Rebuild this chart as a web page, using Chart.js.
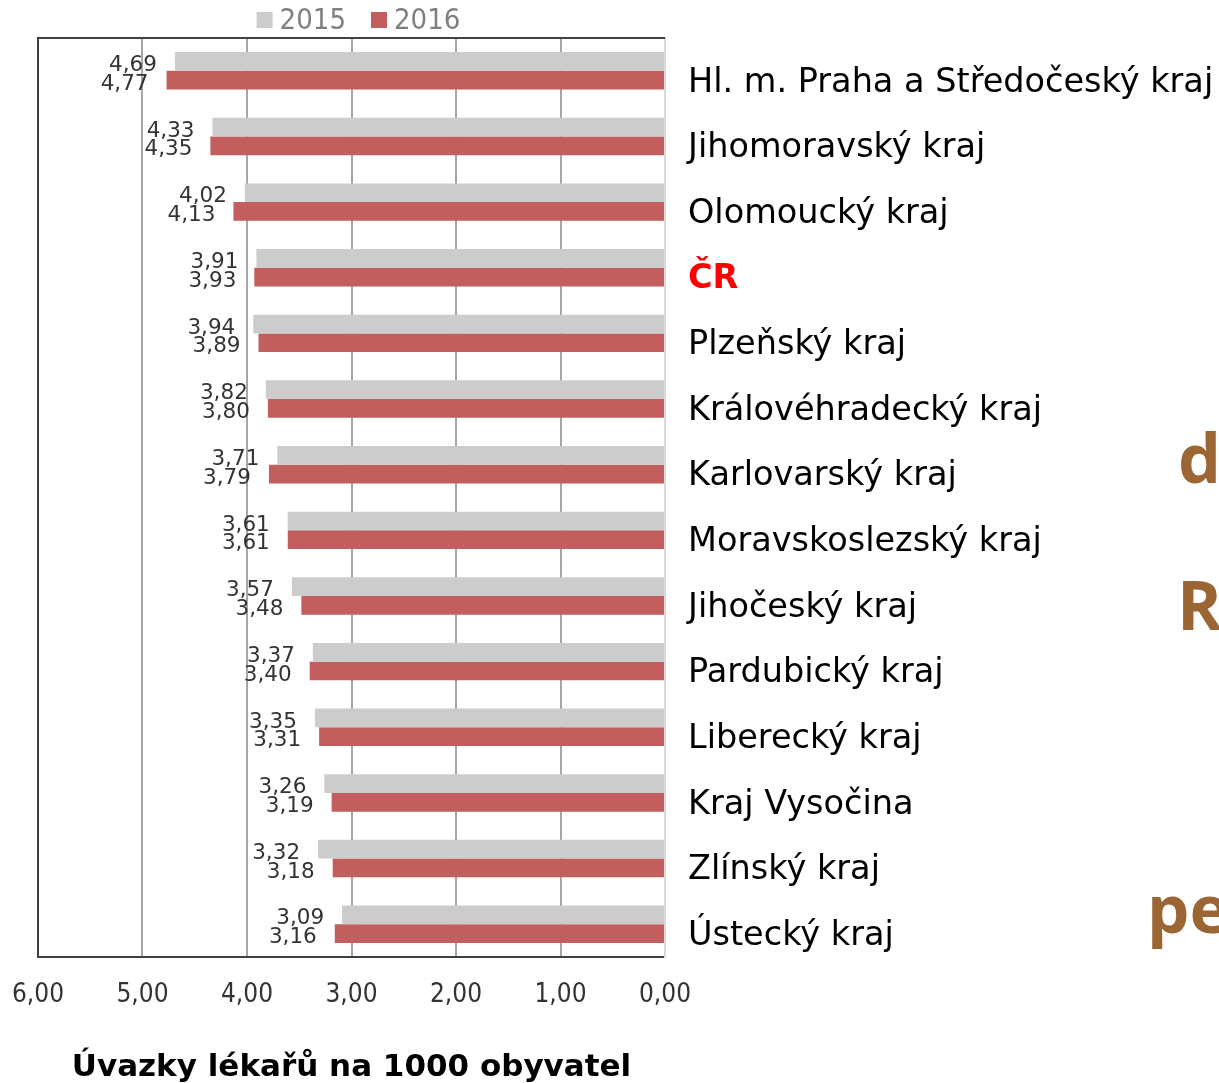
<!DOCTYPE html>
<html>
<head>
<meta charset="utf-8">
<script src="https://cdn.jsdelivr.net/npm/chart.js@4/dist/chart.umd.min.js"></script>
<style>
html,body{margin:0;padding:0;background:#fff;}
#wrap{width:1219px;height:1083px;position:relative;}
</style>
</head>
<body>
<div id="wrap"><canvas id="c" width="1219" height="1083"></canvas></div>
<script>
const categories = ['Hl. m. Praha a Středočeský kraj','Jihomoravský kraj','Olomoucký kraj','ČR','Plzeňský kraj','Královéhradecký kraj','Karlovarský kraj','Moravskoslezský kraj','Jihočeský kraj','Pardubický kraj','Liberecký kraj','Kraj Vysočina','Zlínský kraj','Ústecký kraj'];
const values2015 = [4.69,4.33,4.02,3.91,3.94,3.82,3.71,3.61,3.57,3.37,3.35,3.26,3.32,3.09];
const values2016 = [4.77,4.35,4.13,3.93,3.89,3.80,3.79,3.61,3.48,3.40,3.31,3.19,3.18,3.16];
const seriesNames = ['2015','2016'];
const axisTicks = ['0,00','1,00','2,00','3,00','4,00','5,00','6,00'];
const chartTitle = 'Úvazky lékařů na 1000 obyvatel';
const highlightCategory = 'ČR';
const sideWords = ['d','R','pe'];

const COND = "'DejaVu Sans Condensed','DejaVu Sans',sans-serif";
const REG = "'DejaVu Sans',sans-serif";
const fmt = v => v.toFixed(2).replace('.', ',');

const decor = {
  id:'decor',
  beforeDatasetsDraw(chart){
    const {ctx, chartArea:a} = chart;
    ctx.save();
    ctx.strokeStyle = '#404040';
    ctx.lineWidth = 2;
    ctx.beginPath();
    ctx.moveTo(a.left-1, a.top);
    ctx.lineTo(a.right, a.top);
    ctx.stroke();
    ctx.restore();
  },
  afterDraw(chart){
    const {ctx, chartArea:a} = chart;
    ctx.save();
    // value labels
    ctx.font = "21.5px " + REG;
    ctx.fillStyle = '#333333';
    ctx.textAlign = 'right';
    ctx.textBaseline = 'middle';
    chart.data.datasets.forEach((ds, di) => {
      chart.getDatasetMeta(di).data.forEach((el, i) => {
        ctx.fillText(fmt(ds.data[i]), el.x - 18, el.y + 4);
      });
    });
    // legend
    ctx.font = "29px " + COND;
    const box = 16, gap = 7, sep = 25;
    const widths = chart.data.datasets.map(d => ctx.measureText(d.label).width);
    const total = widths.reduce((s,w)=>s+box+gap+w,0) + sep*(widths.length-1);
    let x = (a.left + a.right)/2 + 7 - total/2;
    const cy = 20;
    ctx.textAlign = 'left';
    chart.data.datasets.forEach((d, i) => {
      ctx.fillStyle = d.backgroundColor;
      ctx.fillRect(x, cy - 8, box, box);
      x += box + gap;
      ctx.fillStyle = '#7F7F7F';
      ctx.fillText(d.label, x, cy + 1);
      x += widths[i] + sep;
    });
    // side words (cut-off slide text)
    ctx.fillStyle = '#9C6634';
    ctx.textBaseline = 'alphabetic';
    ctx.font = "bold 68px 'Open Sans',sans-serif";
    ctx.fillText(sideWords[0], 1178, 483);
    ctx.fillText(sideWords[1], 1177, 630);
    ctx.font = "bold 67px 'Open Sans',sans-serif";
    ctx.fillText(sideWords[2], 1147, 933);
    ctx.restore();
  }
};

new Chart(document.getElementById('c'), {
  type:'bar',
  data:{
    labels: categories,
    datasets:[
      {label:seriesNames[0], data:values2015, backgroundColor:'#CCCCCC', categoryPercentage:0.57, barPercentage:1},
      {label:seriesNames[1], data:values2016, backgroundColor:'#C25E5E', categoryPercentage:0.57, barPercentage:1}
    ]
  },
  options:{
    indexAxis:'y',
    responsive:false,
    animation:false,
    events:[],
    layout:{padding:{left:38, top:38, right:0, bottom:0}},
    plugins:{
      legend:{display:false},
      tooltip:{enabled:false},
      title:{display:true, position:'bottom', fullSize:false, text:chartTitle, color:'#000',
        font:{family:REG, weight:'bold', size:31, lineHeight:0.95}, padding:{top:0, bottom:0}}
    },
    scales:{
      x:{
        reverse:true, min:0, max:6,
        afterFit(s){ s.height = 96.5; s.paddingLeft = 0; s.paddingRight = 0; },
        ticks:{stepSize:1, color:'#333333', padding:23, font:{family:COND, size:26},
          callback:(v)=>axisTicks[Math.round(v)]},
        grid:{drawTicks:false, lineWidth:2,
          color:(c)=> c.tick && c.tick.value===6 ? '#404040' : (c.tick && c.tick.value===0 ? '#D9D9D9' : '#A6A6A6')},
        border:{display:true, color:'#404040', width:2}
      },
      y:{
        position:'right',
        afterFit(s){ s.width = 554; s.paddingTop = 0; s.paddingBottom = 0; },
        grid:{display:false, drawTicks:false},
        border:{display:true, color:'#D9D9D9', width:2},
        ticks:{padding:23, labelOffset:12,
          color:(c)=> categories[c.index]===highlightCategory ? '#FF0000' : '#000000',
          font:(c)=> categories[c.index]===highlightCategory ? {family:REG, size:33.5, weight:'bold'} : {family:REG, size:33.5}}
      }
    }
  },
  plugins:[decor]
});
</script>
</body>
</html>
